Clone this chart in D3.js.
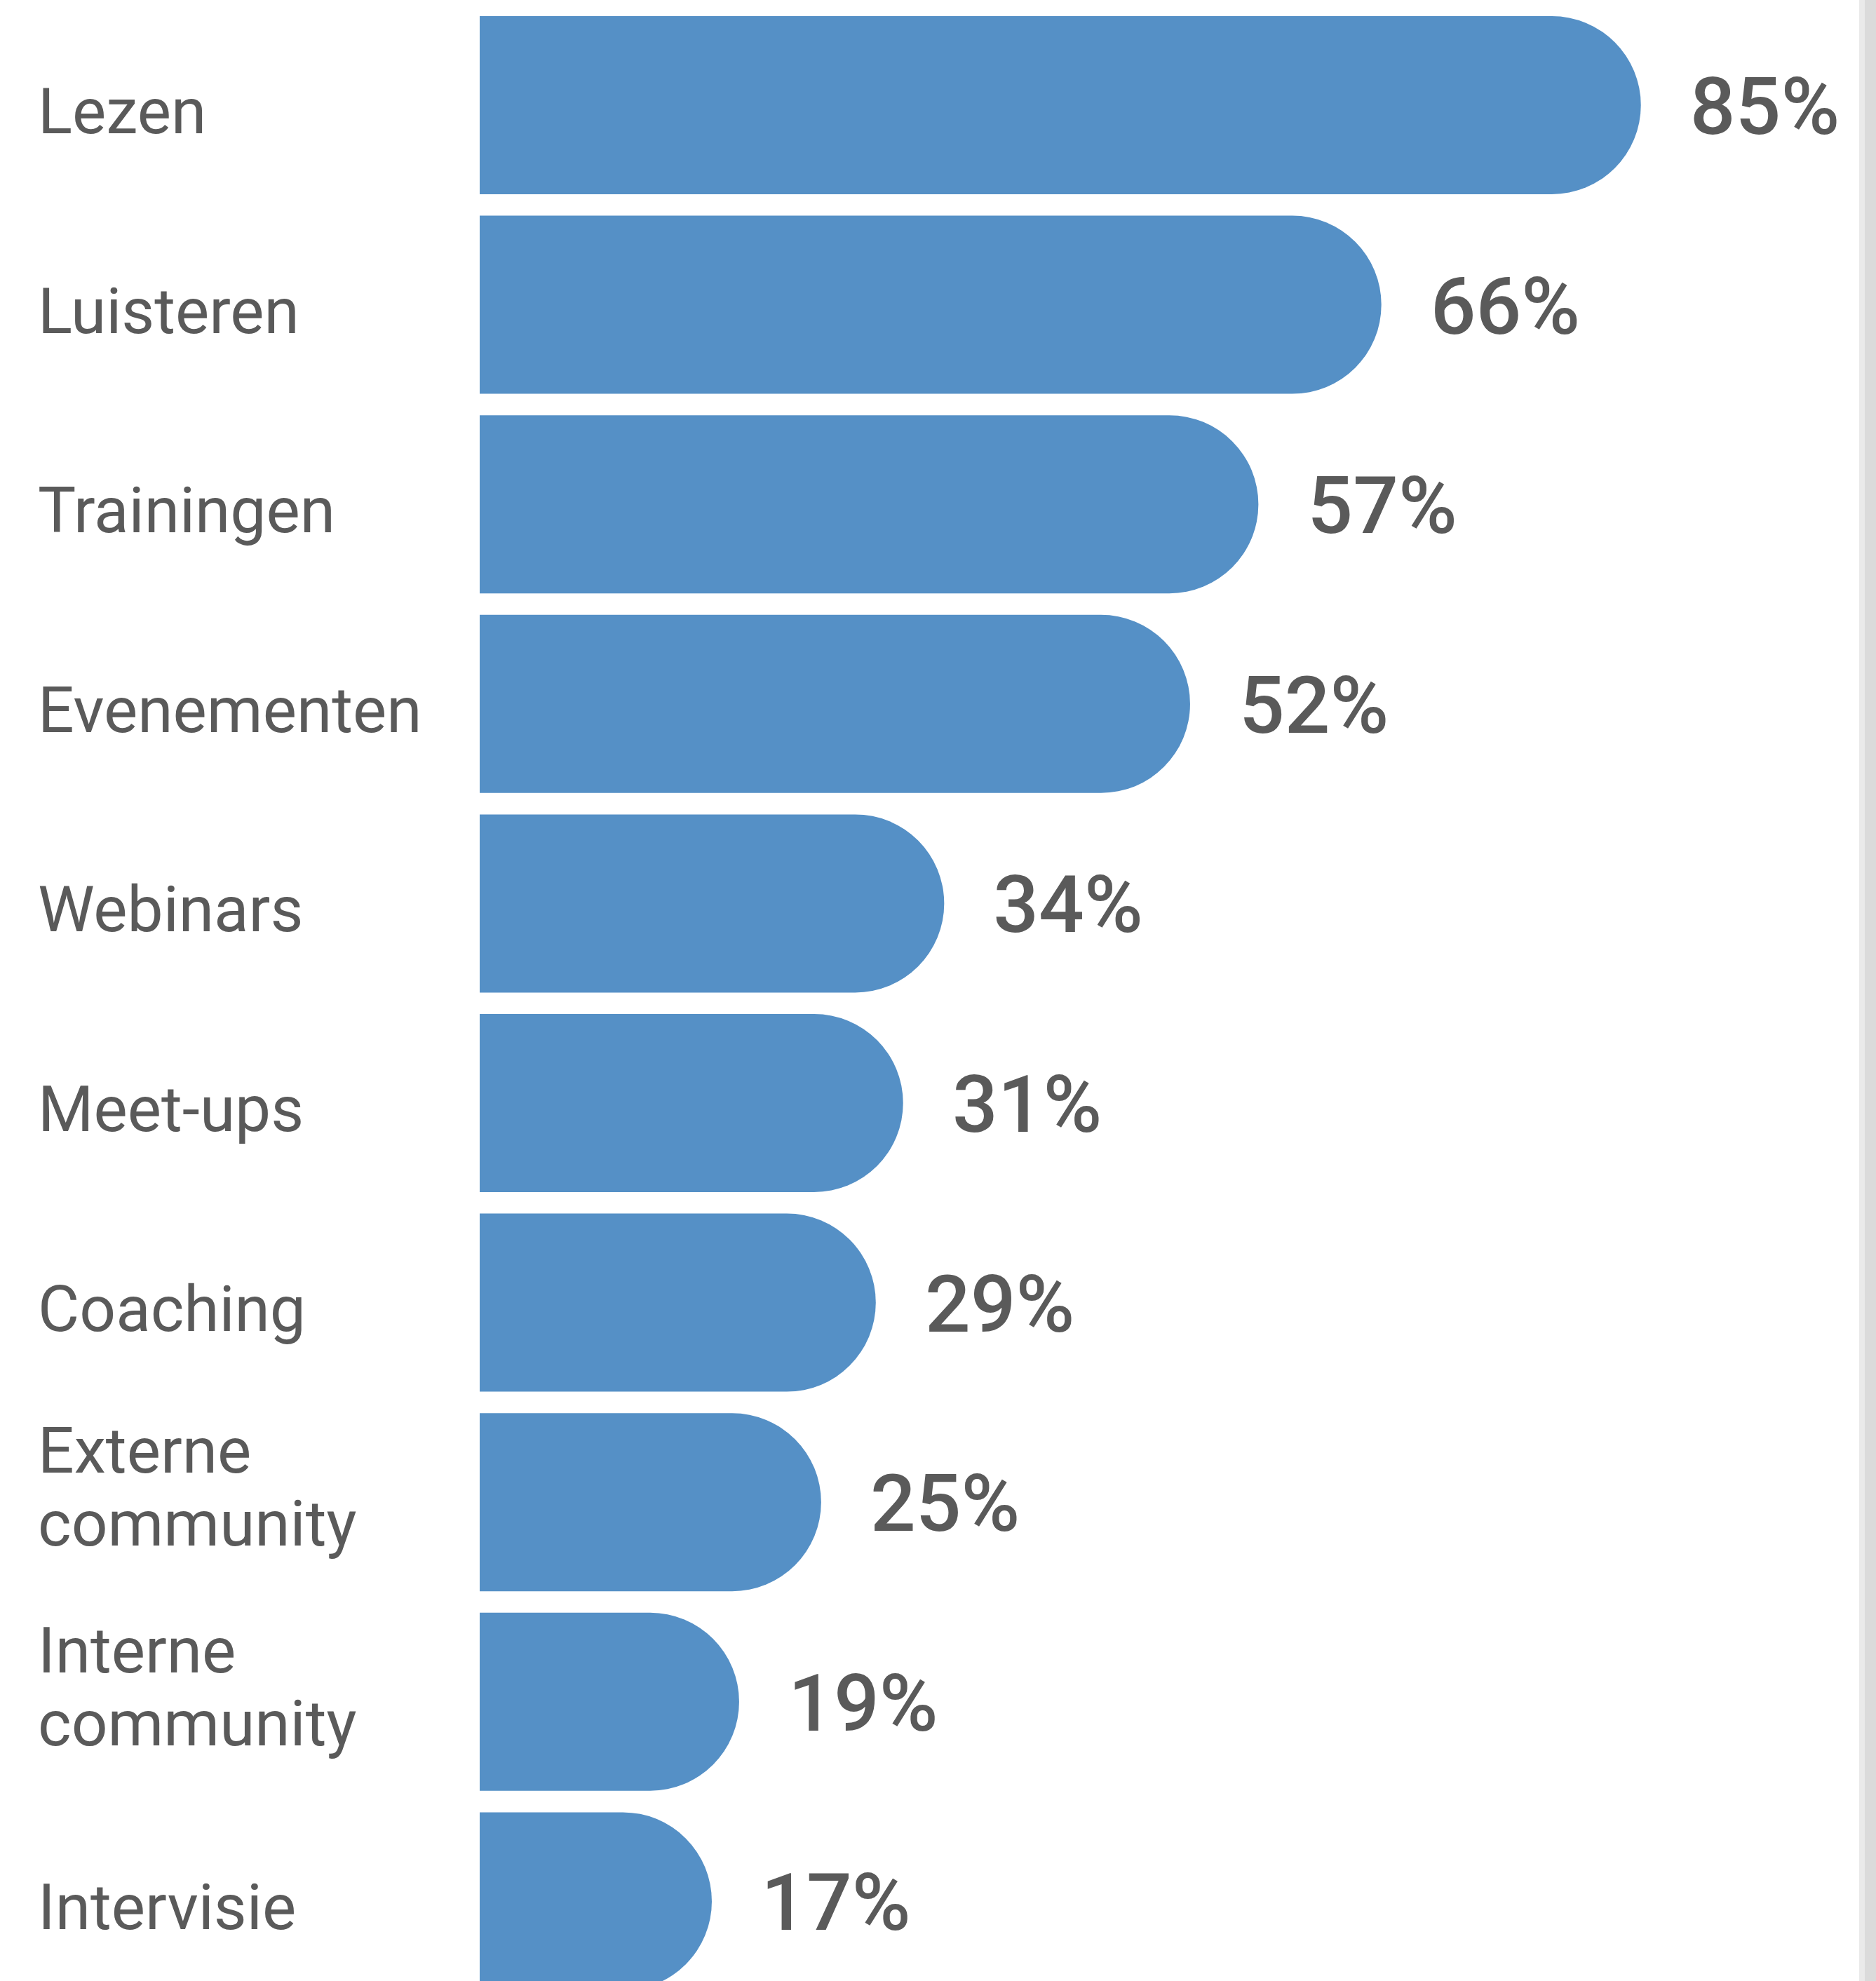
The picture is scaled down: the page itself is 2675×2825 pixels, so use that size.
<!DOCTYPE html>
<html lang="nl">
<head>
<meta charset="utf-8">
<title>Leervormen</title>
<script src="https://cdn.jsdelivr.net/npm/d3@7/dist/d3.min.js"></script>
<style>
  html, body { margin: 0; padding: 0; background: #ffffff; }
  svg { display: block; }
  text { font-family: Roboto, "Noto Sans", sans-serif; }
</style>
</head>
<body>
<svg id="chart"></svg>
<script>
// Share of respondents per way of learning (percent)
const categories = [
  "Lezen", "Luisteren", "Trainingen", "Evenementen", "Webinars",
  "Meet-ups", "Coaching", "Externe community", "Interne community", "Intervisie"
];
const values = [85, 66, 57, 52, 34, 31, 29, 25, 19, 17];

const W = 2675, H = 2825;
const svg = d3.select("#chart").attr("width", W).attr("height", H);

svg.append("rect").attr("width", W).attr("height", H).attr("fill", "#ffffff");

// Scroll-bar like strip along the right edge
svg.append("rect").attr("x", 2651).attr("y", 0).attr("width", 8).attr("height", H).attr("fill", "#eaeaea");
svg.append("rect").attr("x", 2659).attr("y", 0).attr("width", 16).attr("height", H).attr("fill", "#dbdbdb");

const x = d3.scaleLinear().domain([0, 100]).range([684, 2632]);
const y = d3.scaleBand()
  .domain(categories)
  .range([7.7, 2853.7])
  .paddingInner(0.1075)
  .paddingOuter(0.0538);

const rows = categories.map((c, i) => ({ cat: c, v: values[i] }));

// Bars: square left end, fully rounded right end
function barPath(d) {
  const x0 = x(0), x1 = x(d.v);
  const y0 = y(d.cat), h = y.bandwidth(), r = h / 2;
  return `M${x0},${y0}H${x1 - r}A${r},${r} 0 0 1 ${x1 - r},${y0 + h}H${x0}Z`;
}

svg.append("g")
  .selectAll("path")
  .data(rows)
  .join("path")
  .attr("d", barPath)
  .attr("fill", "#5590c6");

// Value labels
svg.append("g")
  .selectAll("text")
  .data(rows)
  .join("text")
  .attr("x", d => x(d.v) + 70)
  .attr("y", d => y(d.cat) + y.bandwidth() / 2 + 41)
  .attr("font-size", 114)
  .attr("font-weight", 500)
  .attr("fill", "#5a5a5a")
  .text(d => d.v + "%");

// Category labels, wrapped onto two lines when they are too wide
const maxLabelWidth = 600;
const labelX = 54;
const labelG = svg.append("g");
rows.forEach(d => {
  const cy = y(d.cat) + y.bandwidth() / 2;
  const t = labelG.append("text")
    .attr("x", labelX)
    .attr("font-size", 91)
    .attr("fill", "#5a5a5a")
    .text(d.cat);
  const words = d.cat.split(" ");
  if (t.node().getComputedTextLength() > maxLabelWidth && words.length > 1) {
    t.text(null);
    const lines = [words.slice(0, -1).join(" "), words[words.length - 1]];
    lines.forEach((ln, k) => {
      t.append("tspan")
        .attr("x", labelX)
        .attr("y", cy - 42 + k * 104)
        .text(ln);
    });
  } else {
    t.attr("y", cy + 40);
  }
});
</script>
</body>
</html>
